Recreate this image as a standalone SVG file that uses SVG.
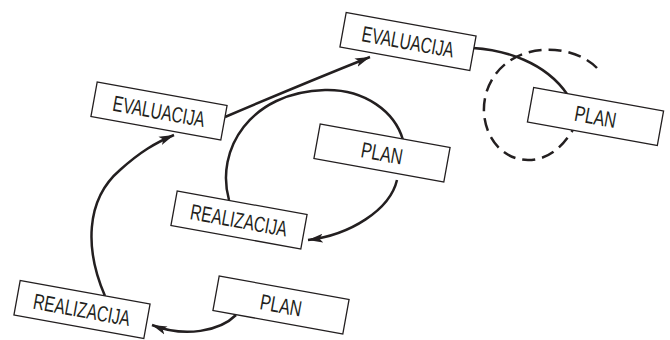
<svg xmlns="http://www.w3.org/2000/svg" width="670" height="340" viewBox="0 0 670 340">
<style>
.box rect{fill:#fff;stroke:#231f20;stroke-width:1.3}
.box text{font-family:"Liberation Sans",Arial,sans-serif;font-size:22px;fill:#231f20;text-anchor:middle}
.conn path{fill:none;stroke:#231f20;stroke-width:2.5}
.dash{stroke-dasharray:13 7}
</style>
<defs>
<marker id="ah" markerUnits="userSpaceOnUse" markerWidth="18" markerHeight="10" refX="15" refY="5" orient="auto">
<path d="M0,0.6 L15,5 L0,9.4 L3.5,5 Z" fill="#231f20"/>
</marker>
</defs>
<g id="connectors" class="conn">
<path d="M236,315 C220,331 185,338 152,325" marker-end="url(#ah)"/>
<path d="M105,296 C85,250 85,200 120,170 C140,152 155,143 174,135" marker-end="url(#ah)"/>
<path d="M225,117 Q300,85 370,57" marker-end="url(#ah)"/>
<path d="M229,200 C215,150 250,92 325,90 C365,89 395,112 403,140"/>
<path d="M397,180 C390,210 350,235 308,240" marker-end="url(#ah)"/>
<path d="M473,48 C505,50 545,62 567,94"/>
<path class="dash" d="M597,68 C575,45 520,40 495,75 C470,110 490,160 528,160 C548,160 562,148 574,128"/>
</g>
<g id="realizacija1" class="box" transform="translate(82,309.5) rotate(10.3)">
<rect x="-66" y="-17.5" width="132" height="35"/>
<text x="0" y="8" textLength="98" lengthAdjust="spacingAndGlyphs">REALIZACIJA</text>
</g>
<g id="plan1" class="box" transform="translate(281,305) rotate(10.3)">
<rect x="-66" y="-17.5" width="132" height="35"/>
<text x="0" y="8" textLength="42" lengthAdjust="spacingAndGlyphs">PLAN</text>
</g>
<g id="evaluacija1" class="box" transform="translate(159,111) rotate(10.3)">
<rect x="-66" y="-17.5" width="132" height="35"/>
<text x="0" y="8" textLength="93" lengthAdjust="spacingAndGlyphs">EVALUACIJA</text>
</g>
<g id="realizacija2" class="box" transform="translate(239,220) rotate(10.3)">
<rect x="-66" y="-17.5" width="132" height="35"/>
<text x="0" y="8" textLength="98" lengthAdjust="spacingAndGlyphs">REALIZACIJA</text>
</g>
<g id="plan2" class="box" transform="translate(382,153) rotate(10.3)">
<rect x="-66" y="-17.5" width="132" height="35"/>
<text x="0" y="8" textLength="42" lengthAdjust="spacingAndGlyphs">PLAN</text>
</g>
<g id="evaluacija2" class="box" transform="translate(408,41.5) rotate(10.3)">
<rect x="-66" y="-17.5" width="132" height="35"/>
<text x="0" y="8" textLength="93" lengthAdjust="spacingAndGlyphs">EVALUACIJA</text>
</g>
<g id="plan3" class="box" transform="translate(595.5,116.5) rotate(10.3)">
<rect x="-66" y="-17.5" width="132" height="35"/>
<text x="0" y="8" textLength="42" lengthAdjust="spacingAndGlyphs">PLAN</text>
</g>
</svg>
